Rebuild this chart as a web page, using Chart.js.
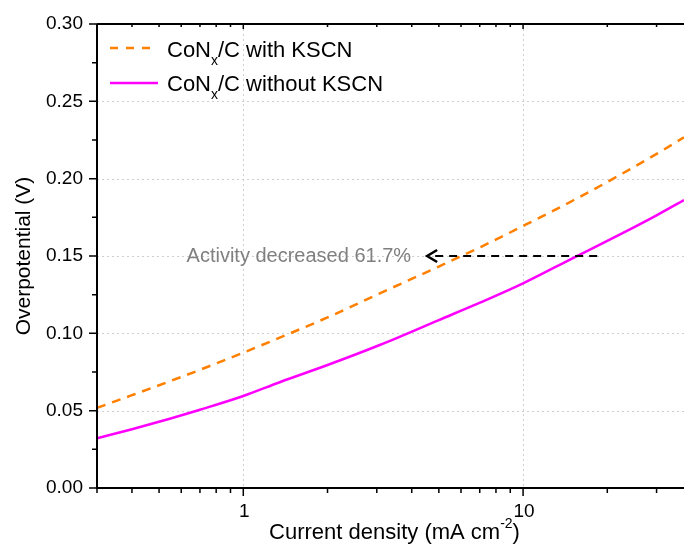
<!DOCTYPE html>
<html>
<head>
    <title>Overpotential vs current density</title>
    <script src="https://cdn.jsdelivr.net/npm/chart.js"></script>
    <style>
        body { margin: 0; background: #fff; }
    </style>
</head>
<body>
    <canvas id="chart" width="684" height="545"></canvas>

    <script>
        // values
        const currentDensity = [0.3, 0.4, 0.546, 0.7, 1, 1.35, 2, 3.09, 5, 7.05, 10, 15.2, 22.4, 30, 37.6];
        const withKSCN = [0.0518, 0.0600, 0.0690, 0.0764, 0.0875, 0.0972, 0.1103, 0.1260, 0.1432, 0.1558, 0.1694, 0.1862, 0.2028, 0.2160, 0.2267];
        const withoutKSCN = [0.0321, 0.0380, 0.0448, 0.0506, 0.0595, 0.0684, 0.0795, 0.0926, 0.1086, 0.1200, 0.1323, 0.1490, 0.1643, 0.1763, 0.1862];

        const yTicks = [0, 0.05, 0.10, 0.15, 0.20, 0.25, 0.30];
        const yMinorTicks = [0.025, 0.075, 0.125, 0.175, 0.225, 0.275];
        const xTicks = [1, 10];
        const xMinorTicks = [0.3, 0.4, 0.5, 0.6, 0.7, 0.8, 0.9, 2, 3, 4, 5, 6, 7, 8, 9, 20, 30];

        // annotation: horizontal arrow at 0.15 V
        const arrowY = 0.15;
        const arrowFrom = 18.4;
        const arrowTo = 4.54;
        const arrowText = 'Activity decreased 61.7%';

        const ORANGE = '#ff8000';
        const PINK = '#ff00ff';
        const FONT = '"Liberation Sans", Arial, sans-serif';

        const toPoints = (ys) => currentDensity.map((x, i) => ({ x: x, y: ys[i] }));

        const decorPlugin = {
            id: 'decor',
            beforeDatasetsDraw(chart) {
                const ctx = chart.ctx;
                const a = chart.chartArea;
                const xs = chart.scales.x, ys = chart.scales.y;
                ctx.save();
                ctx.strokeStyle = '#cfcfcf';
                ctx.lineWidth = 1;
                ctx.setLineDash([2, 3]);
                yTicks.forEach(v => {
                    if (v <= 0 || v >= 0.3) return;
                    const y = Math.round(ys.getPixelForValue(v)) + 0.5;
                    ctx.beginPath(); ctx.moveTo(a.left, y); ctx.lineTo(a.right, y); ctx.stroke();
                });
                xTicks.forEach(v => {
                    const x = Math.round(xs.getPixelForValue(v)) + 0.5;
                    ctx.beginPath(); ctx.moveTo(x, a.top); ctx.lineTo(x, a.bottom); ctx.stroke();
                });
                ctx.restore();
            },
            afterDatasetsDraw(chart) {
                const ctx = chart.ctx;
                const a = chart.chartArea;
                const xs = chart.scales.x, ys = chart.scales.y;
                ctx.save();

                // annotation arrow
                const ay = ys.getPixelForValue(arrowY);
                const x1 = xs.getPixelForValue(arrowFrom);
                const x2 = xs.getPixelForValue(arrowTo);
                ctx.strokeStyle = '#000';
                ctx.lineWidth = 2;
                ctx.setLineDash([8, 6]);
                ctx.beginPath(); ctx.moveTo(x1, ay); ctx.lineTo(x2 + 4, ay); ctx.stroke();
                ctx.setLineDash([]);
                ctx.lineWidth = 2.5;
                ctx.beginPath();
                ctx.moveTo(x2 + 10, ay - 6); ctx.lineTo(x2, ay); ctx.lineTo(x2 + 10, ay + 6);
                ctx.stroke();
                ctx.fillStyle = '#808080';
                ctx.font = '20px ' + FONT;
                ctx.textAlign = 'right';
                ctx.textBaseline = 'middle';
                ctx.fillText(arrowText, x2 - 16, ay);

                // axes
                ctx.strokeStyle = '#000';
                ctx.lineWidth = 2;
                ctx.beginPath();
                ctx.moveTo(a.left, a.top); ctx.lineTo(a.right, a.top);
                ctx.moveTo(a.left, a.top); ctx.lineTo(a.left, a.bottom);
                ctx.lineTo(a.right, a.bottom);
                ctx.stroke();

                ctx.lineWidth = 1.5;
                ctx.beginPath();
                yTicks.forEach(v => {
                    const y = ys.getPixelForValue(v);
                    ctx.moveTo(a.left - 8, y); ctx.lineTo(a.left, y);
                });
                yMinorTicks.forEach(v => {
                    const y = ys.getPixelForValue(v);
                    ctx.moveTo(a.left - 5, y); ctx.lineTo(a.left, y);
                });
                xTicks.forEach(v => {
                    const x = xs.getPixelForValue(v);
                    ctx.moveTo(x, a.bottom); ctx.lineTo(x, a.bottom + 8);
                    ctx.moveTo(x, a.top); ctx.lineTo(x, a.top + 5);
                });
                xMinorTicks.forEach(v => {
                    const x = xs.getPixelForValue(v);
                    ctx.moveTo(x, a.bottom); ctx.lineTo(x, a.bottom + 5);
                    ctx.moveTo(x, a.top); ctx.lineTo(x, a.top + 3);
                });
                ctx.stroke();

                // tick labels
                ctx.fillStyle = '#000';
                ctx.font = '19px ' + FONT;
                ctx.textAlign = 'right';
                ctx.textBaseline = 'middle';
                yTicks.forEach(v => ctx.fillText(v.toFixed(2), a.left - 14, ys.getPixelForValue(v)));
                ctx.textAlign = 'center';
                ctx.textBaseline = 'top';
                xTicks.forEach(v => ctx.fillText(String(v), xs.getPixelForValue(v) + 1, a.bottom + 14));

                // x title with superscript
                const main = 'Current density (mA cm';
                ctx.font = '22px ' + FONT;
                const wMain = ctx.measureText(main).width;
                const wClose = ctx.measureText(')').width;
                ctx.font = '14px ' + FONT;
                const wSup = ctx.measureText('-2').width;
                let tx = (a.left + a.right) / 2 + 4 - (wMain + wSup + wClose) / 2;
                ctx.textAlign = 'left';
                ctx.textBaseline = 'alphabetic';
                ctx.font = '22px ' + FONT;
                ctx.fillText(main, tx, 539);
                ctx.font = '14px ' + FONT;
                ctx.fillText('-2', tx + wMain, 528);
                ctx.font = '22px ' + FONT;
                ctx.fillText(')', tx + wMain + wSup, 539);

                // y title
                ctx.save();
                ctx.translate(30, (a.top + a.bottom) / 2);
                ctx.rotate(-Math.PI / 2);
                ctx.textAlign = 'center';
                ctx.textBaseline = 'alphabetic';
                ctx.font = '21px ' + FONT;
                ctx.fillText('Overpotential (V)', 0, 0);
                ctx.restore();

                // legend
                const entries = [
                    { color: ORANGE, dash: [8, 8], tail: '/C with KSCN', y: 48, base: 57 },
                    { color: PINK, dash: [], tail: '/C without KSCN', y: 83, base: 91 }
                ];
                entries.forEach(e => {
                    ctx.strokeStyle = e.color;
                    ctx.lineWidth = 2.5;
                    ctx.setLineDash(e.dash);
                    ctx.beginPath(); ctx.moveTo(110, e.y); ctx.lineTo(158, e.y); ctx.stroke();
                    ctx.setLineDash([]);
                    ctx.fillStyle = '#000';
                    ctx.textAlign = 'left';
                    ctx.font = '22px ' + FONT;
                    ctx.fillText('CoN', 167, e.base);
                    let px = 167 + ctx.measureText('CoN').width;
                    ctx.font = '14px ' + FONT;
                    ctx.fillText('x', px, e.base + 8);
                    px += ctx.measureText('x').width;
                    ctx.font = '22px ' + FONT;
                    ctx.fillText(e.tail, px, e.base);
                });

                ctx.restore();
            }
        };

        const ctx = document.getElementById('chart').getContext('2d');
        const chart = new Chart(ctx, {
            type: 'line',
            data: {
                datasets: [{
                    label: 'CoNx/C with KSCN',
                    data: toPoints(withKSCN),
                    borderColor: ORANGE,
                    borderWidth: 2.5,
                    borderDash: [9, 7],
                    pointRadius: 0,
                    cubicInterpolationMode: 'monotone'
                }, {
                    label: 'CoNx/C without KSCN',
                    data: toPoints(withoutKSCN),
                    borderColor: PINK,
                    borderWidth: 2.5,
                    pointRadius: 0,
                    cubicInterpolationMode: 'monotone'
                }]
            },
            options: {
                responsive: false,
                animation: false,
                layout: { padding: { left: 97, top: 24, right: 0, bottom: 57 } },
                plugins: { legend: { display: false }, tooltip: { enabled: false } },
                scales: {
                    x: { type: 'logarithmic', min: 0.3, max: 37.6, display: false },
                    y: { type: 'linear', min: 0, max: 0.3, display: false }
                }
            },
            plugins: [decorPlugin]
        });
    </script>
</body>
</html>
